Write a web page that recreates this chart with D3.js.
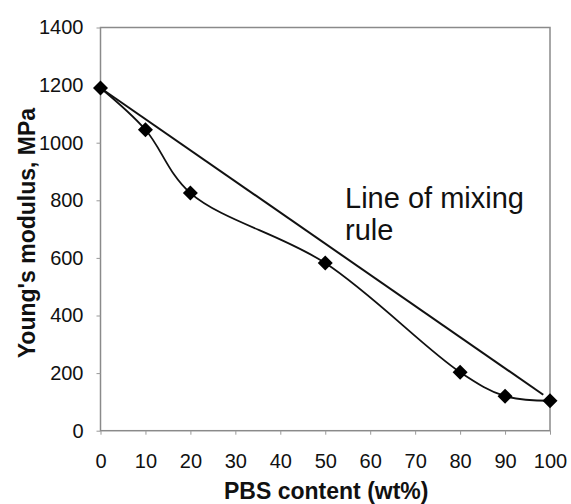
<!DOCTYPE html>
<html><head><meta charset="utf-8">
<script src="https://cdn.jsdelivr.net/npm/d3@7"></script>
<style>body{margin:0;background:#fff}svg{display:block}</style>
</head><body>
<script>
const pbsContent = [0, 10, 20, 50, 80, 90, 100];
const modulus = [1190, 1045, 825, 582, 203, 120, 104];
const mixingX = [0, 98.5];
const mixingY = [1190, 125];
const xTicks = [0,10,20,30,40,50,60,70,80,90,100];
const yTicks = [0,200,400,600,800,1000,1200,1400];

const W = 571, H = 504;
const m = {left: 100.5, right: 21, top: 27.5, bottom: 73.3};
const svg = d3.select("body").append("svg").attr("width", W).attr("height", H);
const x = d3.scaleLinear().domain([0,100]).range([m.left, W - m.right]);
const y = d3.scaleLinear().domain([0,1400]).range([H - m.bottom, m.top]);
const font = "Arial, 'Liberation Sans', sans-serif";

// frame
svg.append("rect").attr("x", x(0)).attr("y", y(1400))
  .attr("width", x(100)-x(0)).attr("height", y(0)-y(1400))
  .attr("fill","none").attr("stroke","#8a8a8a").attr("stroke-width",1.5);

const ya = svg.append("g").attr("transform",`translate(${x(0)},0)`)
  .call(d3.axisLeft(y).tickValues(yTicks).tickSize(4).tickPadding(13).tickFormat(d3.format("d")));
const xa = svg.append("g").attr("transform",`translate(0,${y(0)})`)
  .call(d3.axisBottom(x).tickValues(xTicks).tickSize(4).tickPadding(19).tickFormat(d3.format("d")));
[ya, xa].forEach(g => {
  g.select(".domain").remove();
  g.selectAll(".tick line").attr("stroke","#999").attr("stroke-width",1);
  g.selectAll("text").attr("font-family", font).attr("font-size", 20).attr("fill","#111");
});

// mixing rule line
svg.append("path")
  .datum(mixingX.map((d,i)=>[d, mixingY[i]]))
  .attr("d", d3.line().x(d=>x(d[0])).y(d=>y(d[1])))
  .attr("fill","none").attr("stroke","#111").attr("stroke-width",2);

// smoothed data curve
svg.append("path")
  .datum(pbsContent.map((d,i)=>[d, modulus[i]]))
  .attr("d", d3.line().x(d=>x(d[0])).y(d=>y(d[1])).curve(d3.curveCatmullRom.alpha(0.5)))
  .attr("fill","none").attr("stroke","#111").attr("stroke-width",1.8);

// diamond markers
svg.selectAll(".mk").data(pbsContent).enter().append("path")
  .attr("transform",(d,i)=>`translate(${x(d)},${y(modulus[i])})`)
  .attr("d","M0,-7.5L7.5,0L0,7.5L-7.5,0Z").attr("fill","#000");

// annotation
const ann = svg.append("text").attr("font-family", font).attr("font-size", 29).attr("fill","#111");
ann.append("tspan").attr("x", 345).attr("y", 208).text("Line of mixing");
ann.append("tspan").attr("x", 345).attr("y", 240).text("rule");

// axis titles
svg.append("text").attr("x", (x(0)+x(100))/2 + 1).attr("y", 499).attr("text-anchor","middle")
  .attr("font-family", font).attr("font-weight","bold").attr("font-size", 23).attr("fill","#111")
  .text("PBS content (wt%)");
svg.append("text").attr("transform",`translate(35,${(y(0)+y(1400))/2 + 4}) rotate(-90)`)
  .attr("text-anchor","middle")
  .attr("font-family", font).attr("font-weight","bold").attr("font-size", 23).attr("fill","#111")
  .text("Young's modulus, MPa");
</script>
</body></html>
